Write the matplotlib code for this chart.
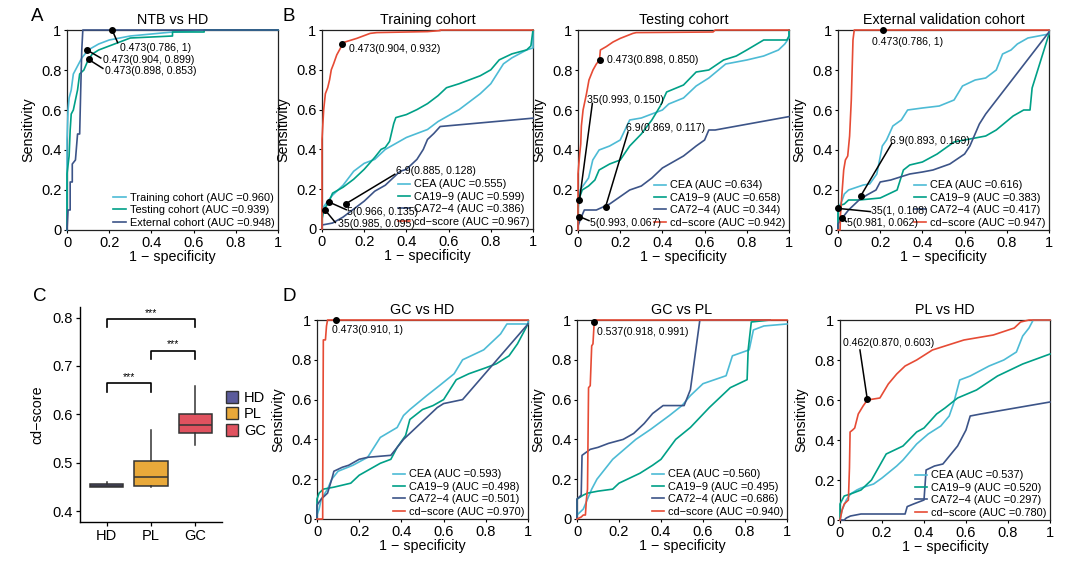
import matplotlib.pyplot as plt
from matplotlib.patches import Patch

plt.rcParams["font.family"] = ["Liberation Sans", "DejaVu Sans"]

# ---------------- data ----------------
# A: NTB vs HD, cd-score in three cohorts
a_names = ["Training cohort", "Testing cohort", "External cohort"]
a_auc = ["0.960", "0.939", "0.948"]
a_train_fpr = [0, 0, 0.005, 0.01, 0.02, 0.03, 0.04, 0.05, 0.07, 0.1, 0.15, 0.2, 0.3, 0.4, 0.5, 0.6, 0.65, 1]
a_train_tpr = [0, 0.45, 0.6, 0.66, 0.7, 0.78, 0.8, 0.82, 0.86, 0.9, 0.93, 0.95, 0.97, 0.98, 0.99, 0.995, 1, 1]
a_test_fpr = [0, 0, 0.01, 0.015, 0.02, 0.03, 0.04, 0.05, 0.06, 0.08, 0.1, 0.12, 0.15, 0.2, 0.25, 0.3, 0.5, 0.5, 0.65, 0.65, 1]
a_test_tpr = [0, 0.28, 0.37, 0.5, 0.58, 0.6, 0.65, 0.7, 0.78, 0.8, 0.85, 0.88, 0.9, 0.92, 0.94, 0.96, 0.97, 0.99, 0.99, 1, 1]
a_ext_fpr = [0, 0.005, 0.015, 0.015, 0.025, 0.025, 0.04, 0.05, 0.06, 0.065, 0.07, 0.075, 1]
a_ext_tpr = [0, 0.1, 0.1, 0.24, 0.24, 0.33, 0.35, 0.48, 0.48, 0.7, 0.9, 1, 1]
a_cut = ["0.473", "0.473", "0.473"]
a_spec = ["0.786", "0.904", "0.898"]
a_sens = ["1", "0.899", "0.853"]

markers = ["CEA", "CA19\u22129", "CA72\u22124", "cd\u2212score"]

# B: training cohort
tr_title = "Training cohort"
tr_auc = ["0.555", "0.599", "0.386", "0.967"]
tr_cea_fpr = [0, 0, 0.02, 0.05, 0.1, 0.15, 0.2, 0.25, 0.3, 0.35, 0.4, 0.45, 0.5, 0.55, 0.6, 0.65, 0.7, 0.75, 0.8, 0.86, 0.9, 0.97, 1, 1]
tr_cea_tpr = [0, 0.1, 0.13, 0.17, 0.22, 0.29, 0.33, 0.35, 0.4, 0.43, 0.46, 0.48, 0.5, 0.54, 0.57, 0.6, 0.64, 0.68, 0.73, 0.83, 0.86, 0.9, 0.91, 1]
tr_ca199_fpr = [0, 0, 0.01, 0.03, 0.05, 0.1, 0.15, 0.2, 0.25, 0.28, 0.3, 0.32, 0.34, 0.35, 0.4, 0.45, 0.5, 0.55, 0.59, 0.65, 0.7, 0.75, 0.8, 0.84, 0.9, 0.97, 0.99, 1]
tr_ca199_tpr = [0, 0.05, 0.1, 0.13, 0.18, 0.21, 0.25, 0.3, 0.36, 0.4, 0.41, 0.44, 0.53, 0.56, 0.575, 0.6, 0.63, 0.67, 0.71, 0.73, 0.75, 0.77, 0.8, 0.85, 0.88, 0.9, 0.92, 1]
tr_ca724_fpr = [0, 0, 0.05, 0.1, 0.15, 0.2, 0.25, 0.3, 0.37, 0.4, 0.45, 0.48, 0.5, 0.53, 0.56, 1]
tr_ca724_tpr = [0, 0.02, 0.03, 0.06, 0.1, 0.14, 0.19, 0.22, 0.29, 0.3, 0.35, 0.4, 0.45, 0.48, 0.515, 0.557]
tr_cd_fpr = [0, 0, 0.008, 0.016, 0.027, 0.036, 0.044, 0.055, 0.07, 0.087, 0.096, 0.11, 0.165, 0.228, 0.26, 0.5, 0.56, 0.56, 1]
tr_cd_tpr = [0, 0.45, 0.6, 0.68, 0.71, 0.75, 0.8, 0.83, 0.875, 0.908, 0.932, 0.94, 0.958, 0.983, 0.987, 0.992, 0.997, 1, 1]
tr_cut = ["0.473", "6.9", "5", "35"]
tr_spec = ["0.904", "0.885", "0.966", "0.985"]
tr_sens = ["0.932", "0.128", "0.135", "0.095"]

# B: testing cohort
te_title = "Testing cohort"
te_auc = ["0.634", "0.658", "0.344", "0.942"]
te_cea_fpr = [0, 0, 0.01, 0.03, 0.05, 0.07, 0.1, 0.15, 0.2, 0.245, 0.3, 0.35, 0.4, 0.43, 0.5, 0.56, 0.62, 0.7, 0.8, 0.88, 0.95, 0.98, 1, 1]
te_cea_tpr = [0, 0.1, 0.2, 0.23, 0.26, 0.35, 0.4, 0.42, 0.45, 0.55, 0.56, 0.58, 0.6, 0.63, 0.66, 0.72, 0.76, 0.83, 0.85, 0.87, 0.9, 0.93, 0.96, 1]
te_ca199_fpr = [0, 0, 0.01, 0.02, 0.05, 0.08, 0.1, 0.15, 0.2, 0.245, 0.3, 0.35, 0.39, 0.42, 0.5, 0.56, 0.62, 0.69, 0.75, 0.8, 0.88, 0.99, 1, 1]
te_ca199_tpr = [0, 0.12, 0.17, 0.2, 0.22, 0.25, 0.3, 0.33, 0.35, 0.42, 0.48, 0.55, 0.62, 0.69, 0.725, 0.79, 0.8, 0.85, 0.87, 0.9, 0.95, 0.95, 0.97, 1]
te_ca724_fpr = [0, 0, 0.01, 0.03, 0.087, 0.15, 0.245, 0.3, 0.35, 0.4, 0.45, 0.5, 0.56, 0.6, 0.62, 0.65, 1]
te_ca724_tpr = [0, 0.02, 0.05, 0.1, 0.1, 0.13, 0.2, 0.22, 0.26, 0.31, 0.34, 0.37, 0.42, 0.45, 0.5, 0.5, 0.567]
te_cd_fpr = [0, 0, 0.008, 0.013, 0.016, 0.024, 0.03, 0.04, 0.052, 0.071, 0.087, 0.102, 0.106, 0.134, 0.166, 0.2, 0.26, 0.276, 0.64, 0.65, 1]
te_cd_tpr = [0, 0.28, 0.38, 0.43, 0.52, 0.6, 0.63, 0.68, 0.75, 0.8, 0.83, 0.85, 0.9, 0.917, 0.94, 0.958, 0.983, 0.987, 0.99, 1, 1]
te_cut = ["0.473", "35", "6.9", "5"]
te_spec = ["0.898", "0.993", "0.869", "0.993"]
te_sens = ["0.850", "0.150", "0.117", "0.067"]

# B: external validation cohort
ex_title = "External validation cohort"
ex_auc = ["0.616", "0.383", "0.417", "0.947"]
ex_cea_fpr = [0, 0, 0.02, 0.03, 0.05, 0.12, 0.15, 0.184, 0.21, 0.23, 0.26, 0.3, 0.33, 0.4, 0.48, 0.55, 0.59, 0.65, 0.7, 0.75, 0.78, 0.82, 0.85, 0.9, 0.95, 1, 1]
ex_cea_tpr = [0, 0.1, 0.15, 0.18, 0.2, 0.225, 0.23, 0.28, 0.42, 0.45, 0.52, 0.55, 0.6, 0.61, 0.62, 0.65, 0.72, 0.75, 0.76, 0.8, 0.88, 0.9, 0.93, 0.96, 0.97, 0.98, 1]
ex_ca199_fpr = [0, 0, 0.03, 0.05, 0.1, 0.2, 0.28, 0.31, 0.34, 0.4, 0.47, 0.55, 0.6, 0.7, 0.75, 0.83, 0.88, 0.91, 0.92, 1]
ex_ca199_tpr = [0, 0.12, 0.13, 0.15, 0.15, 0.16, 0.2, 0.3, 0.325, 0.34, 0.38, 0.44, 0.45, 0.47, 0.5, 0.57, 0.6, 0.6, 0.71, 0.98]
ex_ca724_fpr = [0, 0, 0.02, 0.05, 0.08, 0.1, 0.137, 0.18, 0.2, 0.25, 0.34, 0.4, 0.45, 0.53, 0.6, 0.625, 0.67, 0.7, 1]
ex_ca724_tpr = [0, 0.03, 0.06, 0.1, 0.13, 0.15, 0.175, 0.2, 0.24, 0.25, 0.28, 0.29, 0.3, 0.33, 0.38, 0.42, 0.53, 0.58, 0.99]
ex_cd_fpr = [0, 0.01, 0.012, 0.02, 0.027, 0.035, 0.046, 0.055, 0.063, 0.071, 0.077, 1]
ex_cd_tpr = [0, 0, 0.08, 0.2, 0.3, 0.35, 0.37, 0.47, 0.65, 0.95, 1, 1]
ex_cut = ["0.473", "6.9", "35", "5"]
ex_spec = ["0.786", "0.893", "1", "0.981"]
ex_sens = ["1", "0.169", "0.108", "0.062"]

# C: cd-score by group (box statistics)
c_groups = ["HD", "PL", "GC"]
c_whislo = [0.449, 0.450, 0.536]
c_q1 = [0.449, 0.452, 0.562]
c_med = [0.452, 0.470, 0.577]
c_q3 = [0.456, 0.503, 0.601]
c_whishi = [0.461, 0.568, 0.658]
c_sig = ["***", "***", "***"]

# D: GC vs HD
gh_title = "GC vs HD"
gh_auc = ["0.593", "0.498", "0.501", "0.970"]
gh_cea_fpr = [0, 0, 0.01, 0.02, 0.05, 0.07, 0.1, 0.17, 0.24, 0.3, 0.38, 0.41, 0.44, 0.52, 0.58, 0.65, 0.69, 0.79, 0.87, 0.9, 0.95, 1, 1]
gh_cea_tpr = [0, 0.02, 0.05, 0.1, 0.15, 0.2, 0.24, 0.27, 0.31, 0.41, 0.46, 0.52, 0.55, 0.62, 0.67, 0.73, 0.8, 0.85, 0.93, 0.98, 0.98, 0.98, 1]
gh_ca199_fpr = [0, 0, 0.01, 0.03, 0.08, 0.12, 0.16, 0.2, 0.25, 0.3, 0.35, 0.38, 0.42, 0.44, 0.5, 0.55, 0.6, 0.66, 0.72, 0.8, 0.85, 0.91, 0.95, 1]
gh_ca199_tpr = [0, 0.1, 0.13, 0.15, 0.16, 0.17, 0.18, 0.22, 0.25, 0.28, 0.3, 0.36, 0.42, 0.5, 0.55, 0.57, 0.6, 0.7, 0.73, 0.76, 0.78, 0.82, 0.88, 0.98]
gh_ca724_fpr = [0, 0, 0.02, 0.05, 0.07, 0.08, 0.12, 0.15, 0.2, 0.24, 0.35, 0.41, 0.45, 0.49, 0.57, 0.6, 0.69, 1]
gh_ca724_tpr = [0, 0.07, 0.1, 0.13, 0.2, 0.24, 0.26, 0.27, 0.3, 0.31, 0.32, 0.4, 0.44, 0.48, 0.56, 0.58, 0.6, 0.98]
gh_cd_fpr = [0, 0.027, 0.027, 0.03, 0.04, 0.045, 0.05, 1]
gh_cd_tpr = [0, 0, 0.15, 0.9, 0.9, 0.97, 1, 1]
gh_cut = ["0.473"]
gh_spec = ["0.910"]
gh_sens = ["1"]

# D: GC vs PL
gp_title = "GC vs PL"
gp_auc = ["0.560", "0.495", "0.686", "0.940"]
gp_cea_fpr = [0, 0, 0.03, 0.05, 0.07, 0.095, 0.17, 0.28, 0.35, 0.44, 0.5, 0.54, 0.6, 0.71, 0.74, 0.82, 0.84, 0.89, 1]
gp_cea_tpr = [0, 0.02, 0.05, 0.1, 0.15, 0.2, 0.3, 0.4, 0.45, 0.52, 0.57, 0.62, 0.68, 0.72, 0.82, 0.85, 0.95, 0.97, 0.98]
gp_ca199_fpr = [0, 0, 0.03, 0.05, 0.1, 0.17, 0.2, 0.3, 0.36, 0.4, 0.47, 0.54, 0.63, 0.73, 0.81, 0.815, 0.83, 0.92]
gp_ca199_tpr = [0, 0.1, 0.12, 0.13, 0.14, 0.15, 0.18, 0.23, 0.27, 0.3, 0.4, 0.46, 0.56, 0.66, 0.7, 0.85, 0.99, 1]
gp_ca724_fpr = [0, 0, 0.02, 0.024, 0.063, 0.1, 0.15, 0.22, 0.27, 0.32, 0.36, 0.41, 0.51, 0.54, 0.585, 0.92]
gp_ca724_tpr = [0, 0.1, 0.12, 0.32, 0.35, 0.36, 0.38, 0.4, 0.43, 0.48, 0.53, 0.57, 0.57, 0.65, 1, 1]
gp_cd_fpr = [0, 0.02, 0.03, 0.04, 0.045, 0.05, 0.055, 0.063, 0.07, 0.076, 0.082, 0.09, 1]
gp_cd_tpr = [0, 0.01, 0.02, 0.02, 0.1, 0.15, 0.66, 0.67, 0.87, 0.88, 0.99, 1, 1]
gp_cut = ["0.537"]
gp_spec = ["0.918"]
gp_sens = ["0.991"]

# D: PL vs HD
ph_title = "PL vs HD"
ph_auc = ["0.537", "0.520", "0.297", "0.780"]
ph_cea_fpr = [0, 0.01, 0.03, 0.05, 0.08, 0.1, 0.16, 0.2, 0.27, 0.3, 0.365, 0.42, 0.48, 0.52, 0.54, 0.57, 0.62, 0.71, 0.78, 0.84, 0.87, 0.9, 0.92, 1]
ph_cea_tpr = [0, 0.05, 0.1, 0.13, 0.15, 0.16, 0.18, 0.21, 0.27, 0.3, 0.38, 0.43, 0.47, 0.52, 0.58, 0.7, 0.72, 0.77, 0.8, 0.84, 0.92, 0.96, 1, 1]
ph_ca199_fpr = [0, 0, 0.02, 0.05, 0.1, 0.15, 0.22, 0.3, 0.365, 0.4, 0.46, 0.5, 0.56, 0.65, 0.75, 0.87, 1]
ph_ca199_tpr = [0, 0.08, 0.12, 0.13, 0.15, 0.2, 0.33, 0.37, 0.44, 0.46, 0.53, 0.56, 0.61, 0.65, 0.72, 0.78, 0.83]
ph_ca724_fpr = [0, 0.02, 0.03, 0.05, 0.1, 0.31, 0.32, 0.35, 0.4, 0.41, 0.45, 0.49, 0.56, 0.6, 0.62, 0.67, 1]
ph_ca724_tpr = [0, 0, 0.01, 0.02, 0.03, 0.03, 0.067, 0.08, 0.1, 0.25, 0.27, 0.28, 0.37, 0.45, 0.52, 0.53, 0.59]
ph_cd_fpr = [0, 0.01, 0.02, 0.04, 0.045, 0.048, 0.06, 0.07, 0.087, 0.11, 0.13, 0.19, 0.23, 0.27, 0.31, 0.365, 0.44, 0.59, 0.73, 0.83, 0.86, 0.9, 1]
ph_cd_tpr = [0, 0.05, 0.08, 0.1, 0.26, 0.44, 0.45, 0.46, 0.53, 0.57, 0.6, 0.61, 0.68, 0.73, 0.77, 0.8, 0.85, 0.9, 0.925, 0.96, 0.99, 1, 1]
ph_cut = ["0.462"]
ph_spec = ["0.870"]
ph_sens = ["0.603"]

# ---------------- style ----------------
roc_colors = ["#4DBBD5", "#00A087", "#3C5488", "#E64B35"]
box_colors = ["#5B5B9B", "#E9A93A", "#E0525F"]
ticks = [0, 0.2, 0.4, 0.6, 0.8, 1]
tick_labels = ["0", "0.2", "0.4", "0.6", "0.8", "1"]

fig = plt.figure(figsize=(10.81, 5.61), dpi=100)
W, H = 1081, 561


def rect(left, top, right, bottom):
    return [left / W, 1 - bottom / H, (right - left) / W, (bottom - top) / H]


def roc_axes(r, title):
    ax = fig.add_axes(r)
    ax.set_xlim(0, 1)
    ax.set_ylim(0, 1)
    ax.set_xticks(ticks)
    ax.set_xticklabels(tick_labels)
    ax.set_yticks(ticks)
    ax.set_yticklabels(tick_labels)
    ax.tick_params(length=2.5, width=0.8, labelsize=10.5, pad=1.5)
    for s in ax.spines.values():
        s.set_linewidth(0.9)
        s.set_color("#222222")
    ax.set_title(title, fontsize=10.3, pad=4)
    ax.set_xlabel("1 \u2212 specificity", fontsize=10.3, labelpad=0)
    ax.set_ylabel("Sensitivity", fontsize=10.3, labelpad=4)
    return ax


def draw_points(ax, cut, spec, sens, text_pos, line_end):
    for i in range(len(cut)):
        px = 1 - float(spec[i])
        py = float(sens[i])
        if line_end[i] is not None:
            ax.plot([px, line_end[i][0]], [py, line_end[i][1]], color="black",
                    lw=1.1, zorder=5, clip_on=False)
        ax.plot(px, py, "o", color="black", ms=4, zorder=6, clip_on=False)
        ax.text(text_pos[i][0], text_pos[i][1], f"{cut[i]}({spec[i]}, {sens[i]})",
                fontsize=7.6, ha="left", va="center", zorder=6)


def roc_legend(ax, labels):
    ax.legend(labels, loc="lower right", bbox_to_anchor=(1.0, -0.005), frameon=False,
              fontsize=7.9, handlelength=1.1, handletextpad=0.4, labelspacing=0.22,
              borderaxespad=0.1, borderpad=0.2)


# ---- A ----
axA = roc_axes(rect(67, 30, 278, 230), "NTB vs HD")
for fx, ty, c in [(a_train_fpr, a_train_tpr, roc_colors[0]),
                  (a_test_fpr, a_test_tpr, roc_colors[1]),
                  (a_ext_fpr, a_ext_tpr, roc_colors[2])]:
    axA.plot(fx, ty, color=c, lw=1.2, zorder=3, clip_on=False)
roc_legend(axA, [f"{n} (AUC ={v})" for n, v in zip(a_names, a_auc)])
draw_points(axA, a_cut, a_spec, a_sens,
            [(0.25, 0.912), (0.17, 0.85), (0.182, 0.795)],
            [(0.24, 0.937), (0.16, 0.86), (0.17, 0.808)])

# ---- B / D ROC panels ----
roc_panels = [
    (rect(322, 30, 533, 229), tr_title, tr_auc,
     [(tr_cea_fpr, tr_cea_tpr), (tr_ca199_fpr, tr_ca199_tpr), (tr_ca724_fpr, tr_ca724_tpr), (tr_cd_fpr, tr_cd_tpr)],
     (tr_cut, tr_spec, tr_sens),
     [(0.126, 0.903), (0.35, 0.29), (0.12, 0.087), (0.076, 0.025)],
     [None, (0.345, 0.275), (0.115, 0.097), (0.063, 0.033)]),
    (rect(578, 30, 789, 230), te_title, te_auc,
     [(te_cea_fpr, te_cea_tpr), (te_ca199_fpr, te_ca199_tpr), (te_ca724_fpr, te_ca724_tpr), (te_cd_fpr, te_cd_tpr)],
     (te_cut, te_spec, te_sens),
     [(0.137, 0.85), (0.043, 0.65), (0.226, 0.508), (0.058, 0.033)],
     [None, (0.068, 0.633), (0.237, 0.49), (0.052, 0.047)]),
    (rect(838, 30, 1049, 230), ex_title, ex_auc,
     [(ex_cea_fpr, ex_cea_tpr), (ex_ca199_fpr, ex_ca199_tpr), (ex_ca724_fpr, ex_ca724_tpr), (ex_cd_fpr, ex_cd_tpr)],
     (ex_cut, ex_spec, ex_sens),
     [(0.16, 0.94), (0.247, 0.447), (0.157, 0.095), (0.043, 0.037)],
     [None, (0.255, 0.433), (0.153, 0.092), (0.039, 0.042)]),
    (rect(317, 320, 528, 519), gh_title, gh_auc,
     [(gh_cea_fpr, gh_cea_tpr), (gh_ca199_fpr, gh_ca199_tpr), (gh_ca724_fpr, gh_ca724_tpr), (gh_cd_fpr, gh_cd_tpr)],
     (gh_cut, gh_spec, gh_sens),
     [(0.071, 0.95)], [None]),
    (rect(577, 320, 787, 519), gp_title, gp_auc,
     [(gp_cea_fpr, gp_cea_tpr), (gp_ca199_fpr, gp_ca199_tpr), (gp_ca724_fpr, gp_ca724_tpr), (gp_cd_fpr, gp_cd_tpr)],
     (gp_cut, gp_spec, gp_sens),
     [(0.095, 0.94)], [None]),
    (rect(840, 320, 1050, 520), ph_title, ph_auc,
     [(ph_cea_fpr, ph_cea_tpr), (ph_ca199_fpr, ph_ca199_tpr), (ph_ca724_fpr, ph_ca724_tpr), (ph_cd_fpr, ph_cd_tpr)],
     (ph_cut, ph_spec, ph_sens),
     [(0.016, 0.883)], [(0.095, 0.85)]),
]

for r, title, auc, curves, pts, tpos, lend in roc_panels:
    ax = roc_axes(r, title)
    for (fx, ty), c in zip(curves, roc_colors):
        ax.plot(fx, ty, color=c, lw=1.2, zorder=3, clip_on=False)
    roc_legend(ax, [f"{m} (AUC ={v})" for m, v in zip(markers, auc)])
    draw_points(ax, *pts, tpos, lend)

# ---- C: boxplot ----
axC = fig.add_axes(rect(80, 307, 222, 521.7))
stats = [dict(whislo=lo, q1=a, med=m, q3=b, whishi=hi, label=g)
         for g, lo, a, m, b, hi in zip(c_groups, c_whislo, c_q1, c_med, c_q3, c_whishi)]
bp = axC.bxp(stats, positions=[1, 2, 3], widths=0.75, showfliers=False, patch_artist=True,
             showcaps=False,
             boxprops=dict(edgecolor="#333333", linewidth=1.1),
             medianprops=dict(color="#333333", linewidth=1.1),
             whiskerprops=dict(color="#333333", linewidth=1.1))
for patch, c in zip(bp["boxes"], box_colors):
    patch.set_facecolor(c)
axC.set_xlim(0.4, 3.6)
axC.set_ylim(0.378, 0.822)
axC.set_yticks([0.4, 0.5, 0.6, 0.7, 0.8])
axC.set_yticklabels(["0.4", "0.5", "0.6", "0.7", "0.8"])
axC.set_xticks([1, 2, 3])
axC.set_xticklabels(c_groups)
axC.spines["top"].set_visible(False)
axC.spines["right"].set_visible(False)
for s in ["left", "bottom"]:
    axC.spines[s].set_linewidth(1.0)
axC.tick_params(length=3, width=0.9, labelsize=10.5, pad=2)
axC.set_ylabel("cd\u2212score", fontsize=10.3, labelpad=6)

brackets = [((1, 3), 0.797, 0.781), ((2, 3), 0.732, 0.715), ((1, 2), 0.665, 0.647)]
for (g1, g2), top, low in brackets:
    axC.plot([g1, g1, g2, g2], [low, top, top, low], color="black", lw=1.2)
for ((g1, g2), top, low), s in zip(brackets, c_sig):
    axC.text((g1 + g2) / 2, top + 0.002, s, ha="center", va="bottom", fontsize=7.5)

handles = [Patch(facecolor=c, edgecolor="#333333", linewidth=1.0) for c in box_colors]
axC.legend(handles, c_groups, loc="center left", bbox_to_anchor=(0.98, 0.5), frameon=False,
           fontsize=10.5, handlelength=0.8, handleheight=0.9, handletextpad=0.4,
           labelspacing=0.15, borderaxespad=0.1)

# ---- panel letters ----
for letter, x, y in [("A", 31, 8), ("B", 282, 8), ("C", 33, 288), ("D", 282, 288)]:
    fig.text(x / W, 1 - y / H, letter, fontsize=13.5, ha="left", va="top")

fig.savefig("out.png", dpi=100, facecolor="white")
